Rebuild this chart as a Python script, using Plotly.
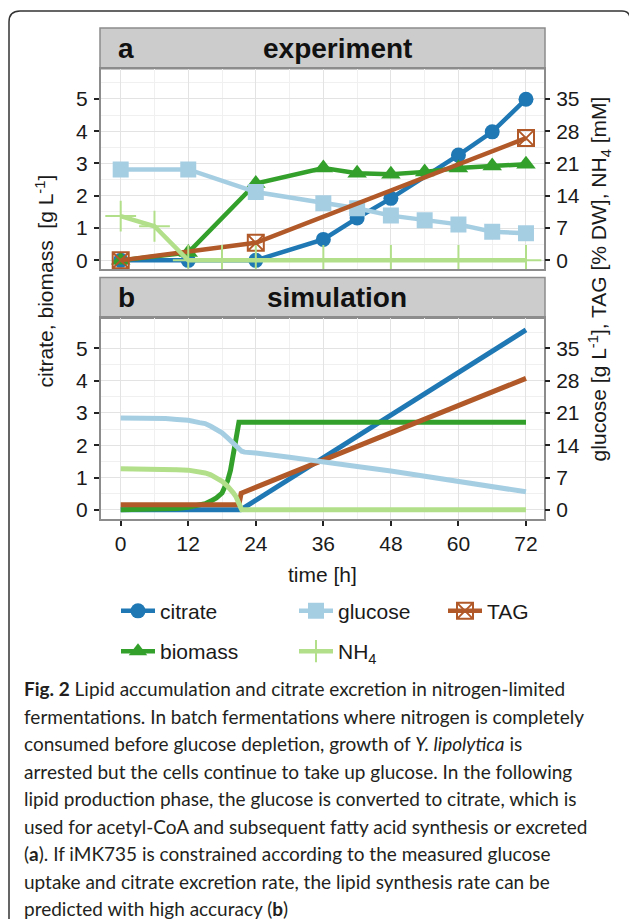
import plotly.graph_objects as go

# ---------------- data ----------------
# Experiment (panel a)
t_citrate = [0, 12, 24, 36, 42, 48, 60, 66, 72]
citrate_exp = [0.0, 0.0, 0.0, 0.65, 1.31, 1.92, 3.26, 3.98, 4.99]          # g/L (left)

t_glucose = [0, 12, 24, 36, 42, 48, 54, 60, 66, 72]
glucose_exp = [19.7, 19.7, 14.8, 12.4, 11.3, 9.7, 8.7, 7.8, 6.2, 5.9]      # g/L (right)

t_tag = [0, 24, 72]
tag_exp = [0.0, 3.8, 26.5]                                                  # % DW (right)

t_biomass = [0, 12, 24, 36, 42, 48, 54, 60, 66, 72]
biomass_exp = [0.0, 0.24, 2.38, 2.86, 2.70, 2.67, 2.74, 2.86, 2.92, 2.98]  # g/L (left)

t_nh4 = [0, 6, 12, 18, 24, 36, 48, 60, 72]
nh4_exp = [9.6, 7.4, 0.0, 0.0, 0.0, 0.0, 0.0, 0.0, 0.0]                     # mM (right)

# Simulation (panel b)
t_citrate_sim = [0, 21.3, 72]
citrate_sim = [0.0, 0.0, 5.57]

t_tag_sim = [0, 21.0, 21.4, 72]
tag_sim = [1.1, 1.1, 3.6, 28.5]

t_glucose_sim = [0, 4, 8, 10, 12, 14, 15, 16, 17, 18, 19, 20, 20.5, 21, 21.5, 22, 24, 30, 36, 42, 48, 54, 60, 66, 72]
glucose_sim = [19.9, 19.9, 19.8, 19.6, 19.4, 18.9, 18.7, 18.1, 17.5, 16.7, 15.6, 14.5, 13.8, 13.1, 12.7, 12.5,
               12.3, 11.4, 10.5, 9.4, 8.4, 7.3, 6.2, 5.0, 3.9]

t_biomass_sim = [0, 4, 8, 10, 12, 14, 15, 16, 17, 18, 18.5, 19, 19.5, 20, 20.25, 20.5, 20.75, 21, 72]
biomass_sim = [0.0, 0.01, 0.02, 0.04, 0.08, 0.14, 0.19, 0.27, 0.37, 0.52, 0.68, 0.9, 1.22, 1.65, 1.92, 2.2,
               2.46, 2.71, 2.71]

t_nh4_sim = [0, 4, 8, 10, 12, 14, 15, 16, 17, 18, 19, 19.5, 20, 20.5, 21, 21.3, 21.5, 72]
nh4_sim = [8.9, 8.9, 8.8, 8.7, 8.6, 8.3, 8.0, 7.6, 7.0, 6.2, 5.1, 4.5, 3.7, 2.8, 1.6, 0.6, 0.0, 0.0]

x_ticks = [0, 12, 24, 36, 48, 60, 72]
y_left_ticks = [0, 1, 2, 3, 4, 5]
y_right_ticks = [0, 7, 14, 21, 28, 35]

# ---------------- styling ----------------
W, H = 629, 919
def px(x): return x / W
def py(y): return 1 - y / H

C_CIT = "#1f78b4"
C_GLC = "#a6cee3"
C_TAG = "#b15928"
C_BIO = "#33a02c"
C_NH4 = "#b2df8a"
FONT = "Liberation Sans, Arial, sans-serif"
BORDER = "#8c8c8c"
GRID = "#e3e3e3"
GRID_MINOR = "#f0f0f0"

YL = [-0.28, 5.93]
YR = [YL[0] * 7, YL[1] * 7]
XR = [-3.5, 75.2]

fig = go.Figure()

# ---- panel a (experiment) ----
LW = 4.5
fig.add_trace(go.Scatter(x=t_glucose, y=glucose_exp, name="glucose", mode="lines+markers",
                         xaxis="x", yaxis="y2", line=dict(color=C_GLC, width=LW),
                         marker=dict(symbol="square", size=16, color=C_GLC),
                         legend="legend2", legendgroup="glc", legendrank=1))
fig.add_trace(go.Scatter(x=t_citrate, y=citrate_exp, name="citrate", mode="lines+markers",
                         xaxis="x", yaxis="y", line=dict(color=C_CIT, width=LW),
                         marker=dict(symbol="circle", size=15, color=C_CIT),
                         legend="legend", legendgroup="cit", legendrank=1))
fig.add_trace(go.Scatter(x=t_tag, y=tag_exp, name="TAG", mode="lines+markers",
                         xaxis="x", yaxis="y2", line=dict(color=C_TAG, width=LW),
                         marker=dict(symbol="square-x-open", size=16, color=C_TAG, line=dict(width=2)),
                         legend="legend3", legendgroup="tag", legendrank=1))
fig.add_trace(go.Scatter(x=t_biomass, y=biomass_exp, name="biomass", mode="lines+markers",
                         xaxis="x", yaxis="y", line=dict(color=C_BIO, width=LW),
                         marker=dict(symbol="triangle-up", size=17, color=C_BIO),
                         legend="legend", legendgroup="bio", legendrank=2))
fig.add_trace(go.Scatter(x=t_nh4, y=nh4_exp, name="NH<sub>4</sub>", mode="lines+markers",
                         xaxis="x", yaxis="y2", line=dict(color=C_NH4, width=LW),
                         marker=dict(symbol="cross-thin", size=22, color=C_NH4, line=dict(width=2, color=C_NH4)),
                         legend="legend2", legendgroup="nh4", legendrank=2))

# ---- panel b (simulation) ----
SW = 5
fig.add_trace(go.Scatter(x=t_citrate_sim, y=citrate_sim, mode="lines", showlegend=False,
                         xaxis="x2", yaxis="y3", line=dict(color=C_CIT, width=SW)))
fig.add_trace(go.Scatter(x=t_tag_sim, y=tag_sim, mode="lines", showlegend=False,
                         xaxis="x2", yaxis="y4", line=dict(color=C_TAG, width=SW)))
fig.add_trace(go.Scatter(x=t_glucose_sim, y=glucose_sim, mode="lines", showlegend=False,
                         xaxis="x2", yaxis="y4", line=dict(color=C_GLC, width=SW)))
fig.add_trace(go.Scatter(x=t_biomass_sim, y=biomass_sim, mode="lines", showlegend=False,
                         xaxis="x2", yaxis="y3", line=dict(color=C_BIO, width=SW)))
fig.add_trace(go.Scatter(x=t_nh4_sim, y=nh4_sim, mode="lines", showlegend=False,
                         xaxis="x2", yaxis="y4", line=dict(color=C_NH4, width=SW)))

tickfont = dict(family=FONT, size=21, color="#1a1a1a")

def xaxis(anchor, labels):
    return dict(domain=[px(101), px(544)], anchor=anchor, range=XR, tick0=0, dtick=12,
                showticklabels=labels, ticks="outside" if labels else "", ticklen=5, tickwidth=2,
                tickcolor="#222", tickfont=tickfont, showgrid=True, gridcolor=GRID, gridwidth=1.3,
                minor=dict(dtick=6, showgrid=True, gridcolor=GRID_MINOR, gridwidth=1),
                showline=True, mirror=True, linecolor=BORDER, linewidth=2, zeroline=False)

def yleft(anchor, dom):
    return dict(domain=dom, anchor=anchor, range=YL, tick0=0, dtick=1, ticks="outside",
                ticklen=5, tickwidth=2, tickcolor="#222", tickfont=tickfont, ticklabelstandoff=2,
                showgrid=True, gridcolor=GRID, gridwidth=1.3,
                minor=dict(dtick=0.5, showgrid=True, gridcolor=GRID_MINOR, gridwidth=1),
                showline=True, mirror=True, linecolor=BORDER, linewidth=2, zeroline=False)

def yright(anchor, over):
    return dict(overlaying=over, side="right", anchor=anchor, range=YR, tickvals=y_right_ticks,
                ticks="outside", ticklen=5, tickwidth=2, tickcolor="#222", tickfont=tickfont,
                ticklabelstandoff=2, showgrid=False, showline=False, zeroline=False)

dom_a = [py(270), py(69)]
dom_b = [py(520), py(319)]

shapes = []
# strips
for top, bot in [(28, 69), (278, 319)]:
    shapes.append(dict(type="rect", xref="paper", yref="paper", x0=px(100), x1=px(545),
                       y0=py(bot), y1=py(top), fillcolor="#cccccc", line=dict(color=BORDER, width=1.5),
                       layer="below"))
# outer rounded frame
path = (f"M {px(9)},{py(930)} L {px(9)},{py(22)} Q {px(9)},{py(11)} {px(20)},{py(11)} "
        f"L {px(622)},{py(11)} Q {px(630)},{py(11)} {px(630)},{py(19)} L {px(630)},{py(930)}")
shapes.append(dict(type="path", xref="paper", yref="paper", path=path, line=dict(color="#333", width=1.5)))

ann = []
def A(text, x, y, size=21, xanchor="center", angle=0, family=FONT, color="#1a1a1a"):
    ann.append(dict(text=text, x=px(x), y=py(y), xref="paper", yref="paper", showarrow=False,
                    xanchor=xanchor, yanchor="middle", textangle=angle,
                    font=dict(family=family, size=size, color=color)))

A("<b>a</b>", 116, 48.5, size=28, xanchor="left", color="#111")
A("<b>experiment</b>", 337, 48.5, size=28, color="#111")
A("<b>b</b>", 116, 298.5, size=28, xanchor="left", color="#111")
A("<b>simulation</b>", 337, 298.5, size=28, color="#111")
A("citrate, biomass  [g L<sup>-1</sup>]", 45, 282, angle=-90)
A("glucose [g L<sup>-1</sup>], TAG [% DW], NH<sub>4</sub> [mM]", 599, 280, angle=-90)
A("time [h]", 322, 576)

caption = [
    "<b>Fig. 2</b> Lipid accumulation and citrate excretion in nitrogen-limited",
    "fermentations. In batch fermentations where nitrogen is completely",
    "consumed before glucose depletion, growth of <i>Y. lipolytica</i> is",
    "arrested but the cells continue to take up glucose. In the following",
    "lipid production phase, the glucose is converted to citrate, which is",
    "used for acetyl-CoA and subsequent fatty acid synthesis or excreted",
    "(<b>a</b>). If iMK735 is constrained according to the measured glucose",
    "uptake and citrate excretion rate, the lipid synthesis rate can be",
    "predicted with high accuracy (<b>b</b>)",
]
for i, line in enumerate(caption):
    A(line, 22, 690 + 27.6 * i, size=19, xanchor="left", family="Lato, sans-serif", color="#231f20")

legfont = dict(family=FONT, size=21, color="#1a1a1a")
def leg(x):
    return dict(x=px(x), y=py(592), xanchor="left", yanchor="top", orientation="v",
                font=legfont, bgcolor="rgba(0,0,0,0)", tracegroupgap=10, itemwidth=34)

fig.update_layout(
    width=W, height=H, autosize=False,
    margin=dict(l=0, r=0, t=0, b=0),
    paper_bgcolor="white", plot_bgcolor="white",
    xaxis=xaxis("y", False),
    yaxis=yleft("x", dom_a),
    yaxis2=yright("x", "y"),
    xaxis2=xaxis("y3", True),
    yaxis3=yleft("x2", dom_b),
    yaxis4=yright("x2", "y3"),
    shapes=shapes,
    annotations=ann,
    legend=leg(116),
    legend2=leg(294),
    legend3=leg(443),
)

fig.write_html("out.html")
